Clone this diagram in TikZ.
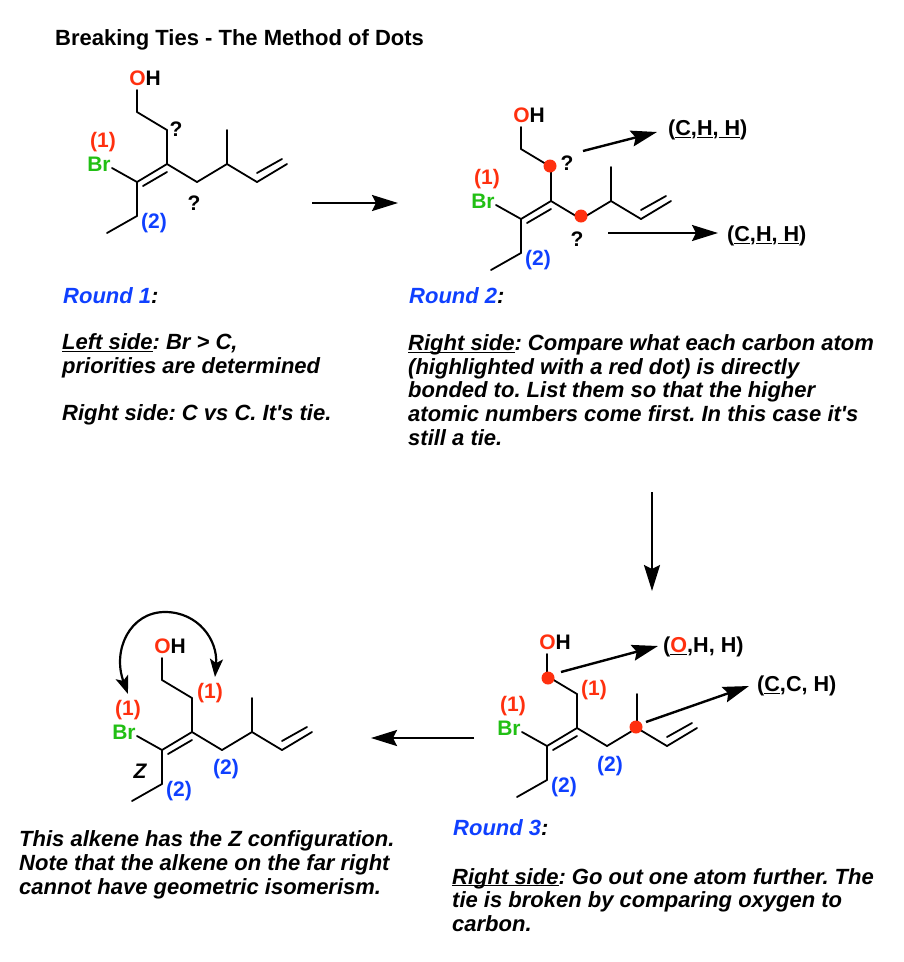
\documentclass[tikz,border=0pt]{standalone}
\usepackage{fontspec}
\usepackage{xcolor}
\setmainfont{Liberation Sans}
\usetikzlibrary{arrows.meta}
\definecolor{atomred}{rgb}{1.0,0.19,0.06}
\definecolor{atomblue}{rgb}{0.06,0.25,1.0}
\definecolor{atomgreen}{rgb}{0.13,0.75,0.08}
\newcommand{\chemfont}{\fontsize{21}{24}\selectfont\bfseries}
\newcommand{\ulsmash}[1]{\underline{\smash{#1}}}
\frenchspacing
\tikzset{
  bond/.style={line width=1.8pt,line cap=round},
  bigarrow/.style={line width=2.4pt,-{Stealth[length=26pt,width=16pt,inset=4pt]}},
  atom/.style={inner sep=0pt,font=\chemfont},
  tuple/.style={inner sep=0pt,anchor=west,font=\fontsize{21.6}{24}\selectfont\bfseries},
  redlabel/.style={atom,text=atomred},
  bluelabel/.style={atom,text=atomblue},
  greenlabel/.style={atom,text=atomgreen},
  reddot/.style={circle,fill=atomred,inner sep=0pt,minimum size=13pt},
  note/.style={inner sep=0pt,anchor=west,align=left,
    font=\fontsize{22}{23.7}\selectfont\bfseries\itshape},
  alkene/.pic={
    \coordinate (o) at (-30,-74);
    \coordinate (ca) at (-30,-52);
    \coordinate (cb) at (0,-34);
    \coordinate (cc) at (0,0);
    \coordinate (cd) at (-30,18);
    \coordinate (brend) at (-55,4);
    \coordinate (ce) at (-30,52);
    \coordinate (cf) at (-60,69);
    \coordinate (cg) at (30,18);
    \coordinate (ch) at (60,0);
    \coordinate (ci) at (60,-34);
    \coordinate (cj) at (90,18);
    \coordinate (ck) at (120,0);
    \coordinate (in1) at (-24,22);
    \coordinate (in2) at (0,8);
    \coordinate (in3) at (90,9);
    \coordinate (in4) at (115,-5);
    \foreach \a/\b in {o/ca,ca/cb,cb/cc,cc/cd,brend/cd,cd/ce,ce/cf,cc/cg,cg/ch,ch/ci,ch/cj,cj/ck,in1/in2,in3/in4}
      \draw[bond] (\a) -- (\b);
    \node[atom] (oh) at (-22,-86) {\textcolor{atomred}{O}H};
    \node[greenlabel] (br) at (-68,0) {Br};
    \node[redlabel] (one) at (-64,-22) {(1)};
    \node[bluelabel] (two) at (-13,59) {(2)};
  }
}
\begin{document}
\begin{tikzpicture}[x=1pt,y=-1pt]
  \useasboundingbox (0,0) rectangle (904,962);
  \node[note,font=\fontsize{22}{24}\selectfont\bfseries] (title) at (55,40) {Breaking Ties - The Method of Dots};

  % first molecule
  \pic (ma) at (167,164) {alkene};
  \node[atom] (maq1) at (176,129) {?};
  \node[atom] (maq2) at (194,203) {?};
  \coordinate (a1s) at (312,203);
  \coordinate (a1e) at (398,203);
  \draw[bigarrow] (a1s) -- (a1e);
  \node[note] (r1) at (63,296) {\textcolor{atomblue}{Round 1}:};
  \node[note] (r1left) at (62,356) {\ulsmash{Left side}: Br > C,\\priorities are determined};
  \node[note] (r1right) at (62,415) {Right side: C vs C. It\textquotesingle s tie.};

  % second molecule
  \pic (mb) at (551,201) {alkene};
  \node[reddot] (mbd1) at (550,166) {};
  \node[reddot] (mbd2) at (581,216) {};
  \node[atom] (mbq1) at (567,163) {?};
  \node[atom] (mbq2) at (577,239) {?};
  \coordinate (a2s) at (583,151);
  \coordinate (a2e) at (657,132);
  \coordinate (a3s) at (608,233);
  \coordinate (a3e) at (718,233);
  \draw[bigarrow] (a2s) -- (a2e);
  \draw[bigarrow] (a3s) -- (a3e);
  \node[tuple] (mbt1) at (668,130) {(\ulsmash{C},\ulsmash{H},\ulsmash{\ H})};
  \node[tuple] (mbt2) at (727,236) {(\ulsmash{C},\ulsmash{H},\ulsmash{\ H})};
  \node[note] (r2) at (409,296) {\textcolor{atomblue}{Round 2}:};
  \node[note] (r2text) at (408,390) {\ulsmash{Right side}: Compare what each carbon atom\\(highlighted with a red dot) is directly\\bonded to. List them so that the higher\\atomic numbers come first. In this case it\textquotesingle s\\still a tie.};

  \coordinate (a4s) at (652,492);
  \coordinate (a4e) at (652,591);
  \draw[bigarrow] (a4s) -- (a4e);

  % third molecule
  \pic (mc) at (577,728) {alkene};
  \node[reddot] (mcd1) at (548,678) {};
  \node[reddot] (mcd2) at (636,727) {};
  \node[redlabel] (mc1) at (594,690) {(1)};
  \node[bluelabel] (mc2) at (610,766) {(2)};
  \coordinate (a5s) at (561,672);
  \coordinate (a5e) at (658,646);
  \coordinate (a6s) at (646,722);
  \coordinate (a6e) at (749,686);
  \draw[bigarrow] (a5s) -- (a5e);
  \draw[bigarrow] (a6s) -- (a6e);
  \node[tuple] (mct1) at (663,647) {(\ulsmash{\textcolor{atomred}{O}},H, H)};
  \node[tuple] (mct2) at (757,686) {(\ulsmash{C},C, H)};
  \node[note] (r3) at (453,828) {\textcolor{atomblue}{Round 3}:};
  \node[note] (r3text) at (452,900) {\ulsmash{Right side}: Go out one atom further. The\\tie is broken by comparing oxygen to\\carbon.};

  \coordinate (a7s) at (474,738);
  \coordinate (a7e) at (371,738);
  \draw[bigarrow] (a7s) -- (a7e);

  % last molecule
  \pic (md) at (192,732) {alkene};
  \node[redlabel] (md1) at (210,693) {(1)};
  \node[bluelabel] (md2) at (226,769) {(2)};
  \node[atom,font=\chemfont\itshape] (mdz) at (140,771) {Z};
  \coordinate (ctl) at (128,694);
  \coordinate (ctop) at (165,612);
  \coordinate (ctr) at (215,677);
  \draw[line width=2.2pt,{Stealth[length=18pt,width=13pt,inset=4pt]}-{Stealth[length=18pt,width=13pt,inset=4pt]}]
    (ctl) .. controls (112,650) and (130,612) .. (ctop) .. controls (198,612) and (218,640) .. (ctr);
  \node[note] (mdtext) at (19,865) {This alkene has the Z configuration.\\Note that the alkene on the far right\\cannot have geometric isomerism.};
\end{tikzpicture}
\end{document}
